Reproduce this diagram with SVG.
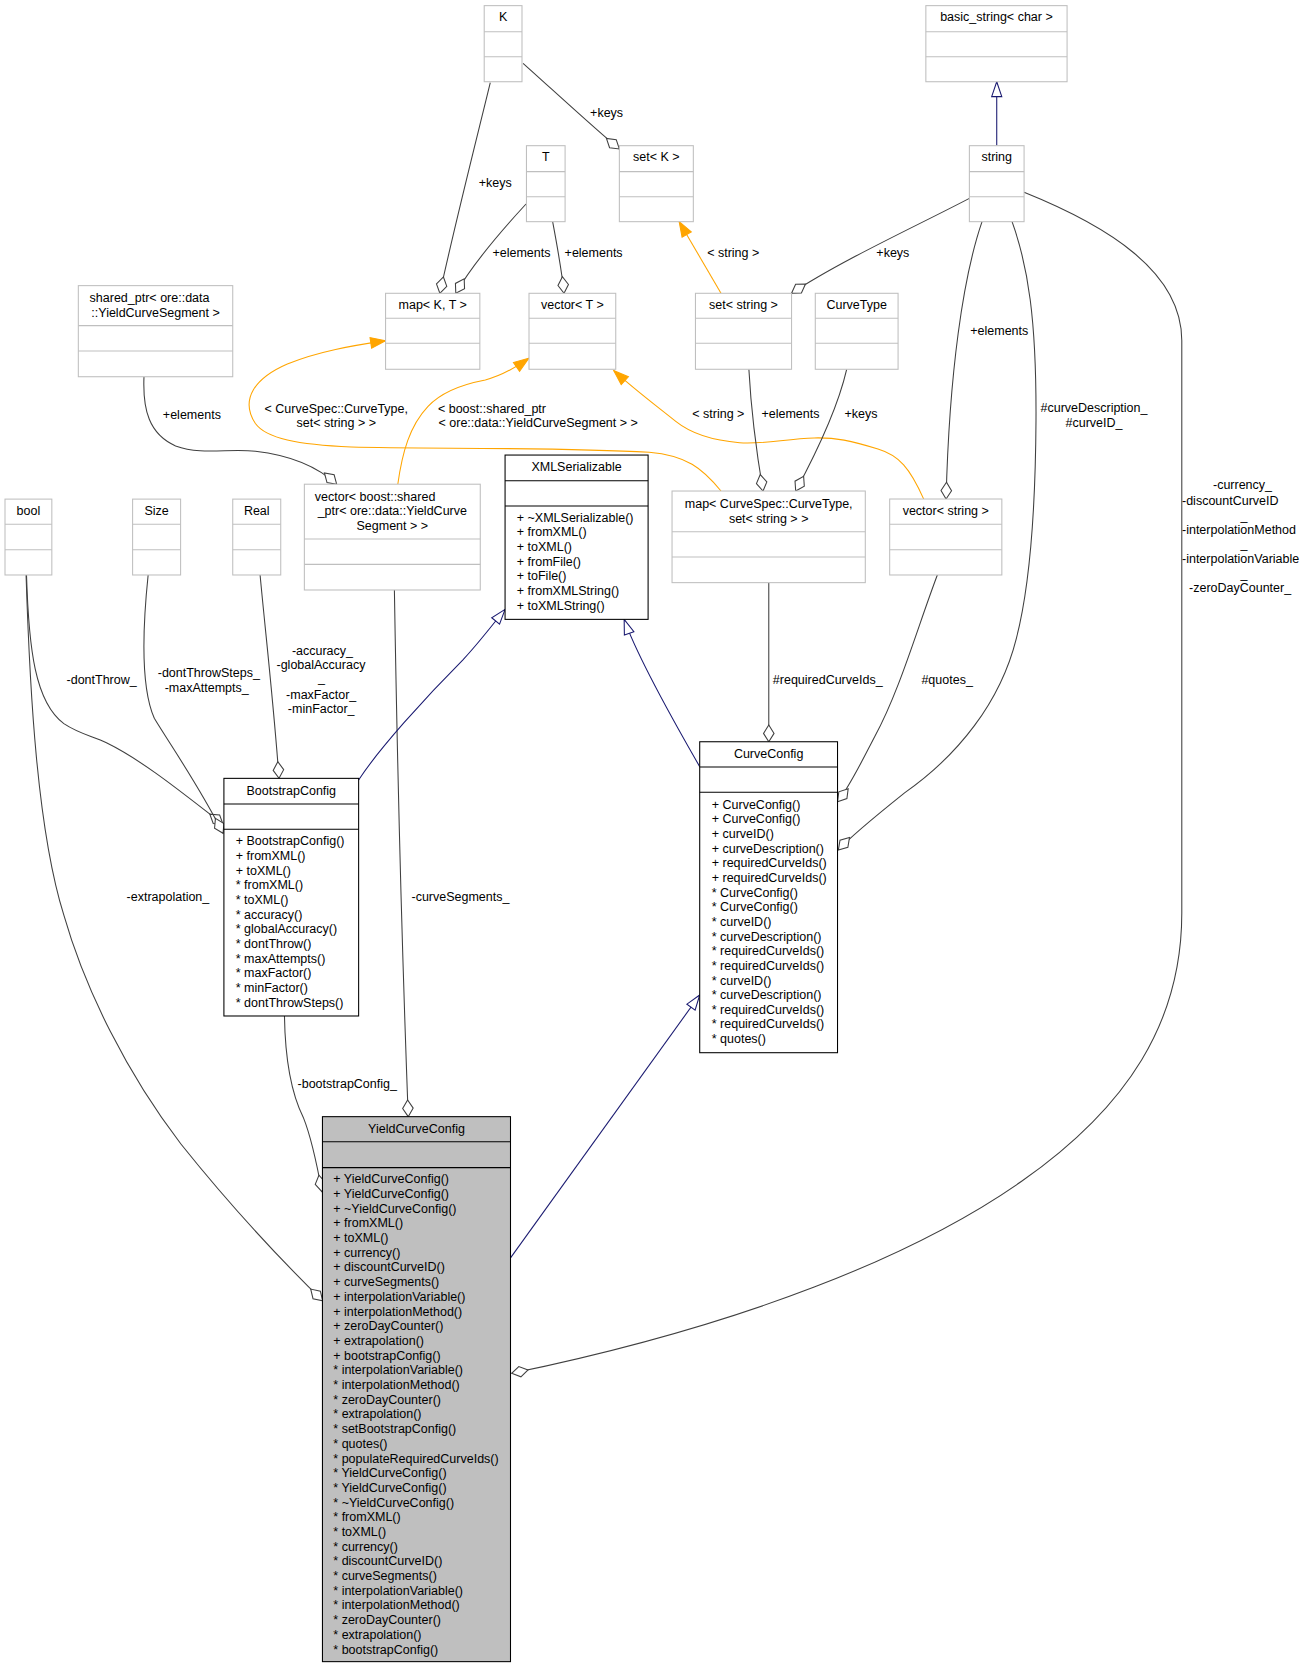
<svg xmlns="http://www.w3.org/2000/svg" width="1309" height="1668" viewBox="0 0 1309 1668">
<style>
text{font-family:"Liberation Sans",Arial,Helvetica,sans-serif;font-size:11.75px;fill:#000}
.c{text-anchor:middle}
.nb{fill:#fff;stroke:#bfbfbf;stroke-width:1}
.ns{stroke:#bfbfbf;stroke-width:1}
.db{fill:#fff;stroke:#000;stroke-width:1}
.gb{fill:#bfbfbf;stroke:#000;stroke-width:1}
.ds{stroke:#000;stroke-width:1}
.e{fill:none;stroke:#404040;stroke-width:1;marker-end:url(#dia)}
.i{fill:none;stroke:#191970;stroke-width:1;marker-end:url(#tri)}
.t{fill:none;stroke:#ffa500;stroke-width:1;marker-end:url(#arr)}
</style>
<defs>
<marker id="dia" viewBox="-17 -6 18 12" markerWidth="18" markerHeight="12" refX="0" refY="0" orient="auto" markerUnits="userSpaceOnUse" overflow="visible"><path d="M0,0 L-7.85,-4.95 L-15.7,0 L-7.85,4.95 Z" fill="#fff" stroke="#404040" stroke-width="1"/></marker>
<marker id="tri" viewBox="-15 -6 16 12" markerWidth="16" markerHeight="12" refX="0" refY="0" orient="auto" markerUnits="userSpaceOnUse" overflow="visible"><path d="M0,0 L-14,-4.75 L-14,4.75 Z" fill="#fff" stroke="#191970" stroke-width="1"/></marker>
<marker id="arr" viewBox="-15 -6 16 12" markerWidth="16" markerHeight="12" refX="0" refY="0" orient="auto" markerUnits="userSpaceOnUse" overflow="visible"><path d="M0,0 L-14,-5 L-14,5 Z" fill="#ffa500" stroke="#ffa500" stroke-width="1"/></marker>
</defs>
<rect x="0" y="0" width="1309" height="1668" fill="#fff"/>
<g transform="scale(1.0642)">
<g id="connectors">
<path class="e" d="M460.7,77.7 C450,122 430,200 413.3,275.6"/>
<text class="c" x="465.3" y="175.9">+keys</text>
<path class="e" d="M491.5,59.5 C520,85 560,122 582,140"/>
<text class="c" x="570" y="110.1">+keys</text>
<path class="e" d="M494.3,191.7 C470,218 442,252 428.3,275.6"/>
<text class="c" x="490" y="241.6">+elements</text>
<path class="e" d="M519.3,208.3 C523,228 528,255 530,275.6"/>
<text class="c" x="557.8" y="241.6">+elements</text>
<path class="t" d="M677.5,275.6 L638.2,208.3"/>
<text class="c" x="689" y="241.6">&lt; string &gt;</text>
<path class="e" d="M910.9,186.4 C860,213 790,245 743.8,275.6"/>
<text class="c" x="839" y="241.6">+keys</text>
<path class="e" d="M922.8,208.3 C905,260 892,350 889,468.9"/>
<text class="c" x="939" y="314.9">+elements</text>
<path class="e" d="M951,208.3 C966,250 974,300 973.5,395 C973,480 968,550 955,600 C940,660 900,710 850,745 C825,765 800,785 787.8,798.7"/>
<text class="c" x="1028" y="387.2">#curveDescription_</text>
<text class="c" x="1028" y="401.4">#curveID_</text>
<path class="e" d="M962.3,180.7 C1040,212 1110.5,255 1110.5,320 L1110.5,858 C1110.5,960 1060,1040 960,1110 C860,1180 700,1245 480.8,1290.5"/>
<text x="1139.8" y="459.3">-currency_</text>
<text x="1110.7" y="474.7">-discountCurveID</text>
<text class="c" x="1169" y="488.2">_</text>
<text x="1110.7" y="501.6">-interpolationMethod</text>
<text class="c" x="1169" y="515.4">_</text>
<text x="1110.7" y="529.2">-interpolationVariable</text>
<text class="c" x="1169" y="543">_</text>
<text x="1117.3" y="556.4">-zeroDayCounter_</text>
<path class="e" d="M135.3,354 C134,385 140,408 165,419 C190,428 215,421 240,424 C275,428 300,440 316.4,455.1"/>
<text class="c" x="180.3" y="393.5">+elements</text>
<path class="t" d="M677.5,461.4 C660,440 645,428 610,425 C520,420 400,422 330,420 C280,418 250,412 240,398 C225,375 240,355 270,342 C300,330 330,325 362.3,320.1"/>
<text class="c" x="316" y="387.9">&lt; CurveSpec::CurveType,</text>
<text class="c" x="316" y="401.4">set&lt; string &gt; &gt;</text>
<path class="t" d="M373.8,455 C378,425 385,400 402,382 C415,368 435,361 456,357 C472,353 485,345 496.8,336.7"/>
<text x="411.5" y="387.9">&lt; boost::shared_ptr</text>
<text class="c" x="505.7" y="401.4">&lt; ore::data::YieldCurveSegment &gt; &gt;</text>
<path class="t" d="M868,469 C855,440 845,428 825,422 C800,414 785,411 765,411.5 C740,412 715,418 695,416 C670,414 650,408 635,396 C615,380 595,365 576.8,348.3"/>
<text class="c" x="675" y="393.2">&lt; string &gt;</text>
<path class="e" d="M703.7,347 C706,390 710,420 717,461.4"/>
<text class="c" x="742.8" y="393.2">+elements</text>
<path class="e" d="M795.6,347 C788,380 770,420 747.7,461.4"/>
<text class="c" x="809" y="393.2">+keys</text>
<path class="e" d="M722.4,547.5 L722.4,697"/>
<text class="c" x="777.8" y="642.5">#requiredCurveIds_</text>
<path class="e" d="M880.8,540.3 C862,590 845,650 822,692 C810,715 798,740 787,753.3"/>
<text class="c" x="890" y="642.5">#quotes_</text>
<path class="e" d="M24.9,540.3 C27,610 33,660 60,680 C75,690 88,692 100,698 C135,715 175,748 209.6,774.6"/>
<text class="c" x="95.5" y="642.5">-dontThrow_</text>
<path class="e" d="M139.2,540.3 C133,600 134,650 145,675 C160,700 185,735 209.6,783"/>
<text class="c" x="196.2" y="636">-dontThrowSteps_</text>
<text class="c" x="194.2" y="650">-maxAttempts_</text>
<path class="e" d="M244.4,540.3 C250,600 257,660 262.2,731.4"/>
<text class="c" x="303" y="615.6">-accuracy_</text>
<text class="c" x="301.6" y="629.1">-globalAccuracy</text>
<text class="c" x="302" y="641">_</text>
<text class="c" x="301.8" y="657">-maxFactor_</text>
<text class="c" x="301.8" y="670.2">-minFactor_</text>
<path class="e" d="M24.5,540.3 C28,650 35,780 60,860 C80,930 120,1010 170,1075 C210,1125 260,1180 303.2,1222.3"/>
<text class="c" x="157.8" y="846.8">-extrapolation_</text>
<path class="e" d="M370.6,554.4 C373,700 378,900 383.6,1049.3"/>
<text class="c" x="432.7" y="846.8">-curveSegments_</text>
<path class="e" d="M267.3,954.7 C268,1000 275,1030 285,1050 C293,1070 298,1095 302.5,1119.8"/>
<text class="c" x="326.3" y="1022.2">-bootstrapConfig_</text>
<path class="i" d="M936.6,136.9 L936.6,76.8"/>
<path class="i" d="M337,733 C355,705 400,655 435,620 C450,604 462,588 474.6,572.6"/>
<path class="i" d="M657.5,720.4 C640,690 600,620 586.5,582"/>
<path class="i" d="M479.9,1181.8 L657.5,935"/>
</g>
<g id="node-K">
<rect class="nb" x="455" y="5.3" width="35.5" height="71.5"/>
<line class="ns" x1="455" y1="29.8" x2="490.5" y2="29.8"/><line class="ns" x1="455" y1="53.3" x2="490.5" y2="53.3"/>
<text class="c" x="472.75" y="20.1">K</text>
</g>
<g id="node-basic_string">
<rect class="nb" x="870" y="5.3" width="132.7" height="71.5"/>
<line class="ns" x1="870" y1="29.8" x2="1002.7" y2="29.8"/><line class="ns" x1="870" y1="53.3" x2="1002.7" y2="53.3"/>
<text class="c" x="936.35" y="20.1">basic_string&lt; char &gt;</text>
</g>
<g id="node-T">
<rect class="nb" x="494.7" y="136.9" width="36.3" height="71.4"/>
<line class="ns" x1="494.7" y1="161.3" x2="531" y2="161.3"/><line class="ns" x1="494.7" y1="184.8" x2="531" y2="184.8"/>
<text class="c" x="512.85" y="151.7">T</text>
</g>
<g id="node-setK">
<rect class="nb" x="582" y="136.9" width="69.5" height="71.4"/>
<line class="ns" x1="582" y1="161.3" x2="651.5" y2="161.3"/><line class="ns" x1="582" y1="184.8" x2="651.5" y2="184.8"/>
<text class="c" x="616.75" y="151.7">set&lt; K &gt;</text>
</g>
<g id="node-string">
<rect class="nb" x="910.9" y="136.9" width="51.4" height="71.4"/>
<line class="ns" x1="910.9" y1="161.3" x2="962.3" y2="161.3"/><line class="ns" x1="910.9" y1="184.8" x2="962.3" y2="184.8"/>
<text class="c" x="936.6" y="151.7">string</text>
</g>
<g id="node-shared_ptr">
<rect class="nb" x="73.6" y="268.4" width="145.1" height="85.6"/>
<line class="ns" x1="73.6" y1="306" x2="218.7" y2="306"/><line class="ns" x1="73.6" y1="329.8" x2="218.7" y2="329.8"/>
<text x="84.2" y="283.9">shared_ptr&lt; ore::data</text>
<text class="c" x="146.15" y="298">::YieldCurveSegment &gt;</text>
</g>
<g id="node-mapKT">
<rect class="nb" x="362.3" y="275.6" width="88.6" height="71.4"/>
<line class="ns" x1="362.3" y1="299.1" x2="450.9" y2="299.1"/><line class="ns" x1="362.3" y1="322.6" x2="450.9" y2="322.6"/>
<text class="c" x="406.6" y="290.4">map&lt; K, T &gt;</text>
</g>
<g id="node-vectorT">
<rect class="nb" x="497.1" y="275.6" width="81.5" height="71.4"/>
<line class="ns" x1="497.1" y1="299.1" x2="578.6" y2="299.1"/><line class="ns" x1="497.1" y1="322.6" x2="578.6" y2="322.6"/>
<text class="c" x="537.85" y="290.4">vector&lt; T &gt;</text>
</g>
<g id="node-setstring">
<rect class="nb" x="653.5" y="275.6" width="90.3" height="71.4"/>
<line class="ns" x1="653.5" y1="299.1" x2="743.8" y2="299.1"/><line class="ns" x1="653.5" y1="322.6" x2="743.8" y2="322.6"/>
<text class="c" x="698.65" y="290.4">set&lt; string &gt;</text>
</g>
<g id="node-CurveType">
<rect class="nb" x="766.1" y="275.6" width="77.8" height="71.4"/>
<line class="ns" x1="766.1" y1="299.1" x2="843.9" y2="299.1"/><line class="ns" x1="766.1" y1="322.6" x2="843.9" y2="322.6"/>
<text class="c" x="805" y="290.4">CurveType</text>
</g>
<g id="node-XMLSerializable">
<rect class="db" x="474.6" y="427.6" width="134.4" height="154.4"/>
<line class="ds" x1="474.6" y1="451.7" x2="609" y2="451.7"/><line class="ds" x1="474.6" y1="475.5" x2="609" y2="475.5"/>
<text class="c" x="541.8" y="442.7">XMLSerializable</text>
<text x="485.6" y="490.3">+ ~XMLSerializable()<tspan x="485.6" dy="13.75">+ fromXML()</tspan><tspan x="485.6" dy="13.75">+ toXML()</tspan><tspan x="485.6" dy="13.75">+ fromFile()</tspan><tspan x="485.6" dy="13.75">+ toFile()</tspan><tspan x="485.6" dy="13.75">+ fromXMLString()</tspan><tspan x="485.6" dy="13.75">+ toXMLString()</tspan></text>
</g>
<g id="node-bool">
<rect class="nb" x="4.7" y="469" width="44" height="71.3"/>
<line class="ns" x1="4.7" y1="492.7" x2="48.7" y2="492.7"/><line class="ns" x1="4.7" y1="516.5" x2="48.7" y2="516.5"/>
<text class="c" x="26.7" y="483.8">bool</text>
</g>
<g id="node-Size">
<rect class="nb" x="124.6" y="469" width="45.1" height="71.3"/>
<line class="ns" x1="124.6" y1="492.7" x2="169.7" y2="492.7"/><line class="ns" x1="124.6" y1="516.5" x2="169.7" y2="516.5"/>
<text class="c" x="147.15" y="483.8">Size</text>
</g>
<g id="node-Real">
<rect class="nb" x="218.7" y="469" width="45.1" height="71.3"/>
<line class="ns" x1="218.7" y1="492.7" x2="263.8" y2="492.7"/><line class="ns" x1="218.7" y1="516.5" x2="263.8" y2="516.5"/>
<text class="c" x="241.25" y="483.8">Real</text>
</g>
<g id="node-vector_shared_ptr">
<rect class="nb" x="286" y="455" width="165.3" height="99.4"/>
<line class="ns" x1="286" y1="506.5" x2="451.3" y2="506.5"/><line class="ns" x1="286" y1="530.3" x2="451.3" y2="530.3"/>
<text x="295.8" y="470.8">vector&lt; boost::shared</text>
<text class="c" x="368.65" y="484.4">_ptr&lt; ore::data::YieldCurve</text>
<text class="c" x="368.65" y="498">Segment &gt; &gt;</text>
</g>
<g id="node-map_CurveSpec">
<rect class="nb" x="631.5" y="461.4" width="181.6" height="86.1"/>
<line class="ns" x1="631.5" y1="499.6" x2="813.1" y2="499.6"/><line class="ns" x1="631.5" y1="523.4" x2="813.1" y2="523.4"/>
<text class="c" x="722.3" y="477.6">map&lt; CurveSpec::CurveType,</text>
<text class="c" x="722.3" y="491.7">set&lt; string &gt; &gt;</text>
</g>
<g id="node-vectorstring">
<rect class="nb" x="836" y="468.9" width="105.4" height="71.4"/>
<line class="ns" x1="836" y1="492.7" x2="941.4" y2="492.7"/><line class="ns" x1="836" y1="516.5" x2="941.4" y2="516.5"/>
<text class="c" x="888.7" y="483.7">vector&lt; string &gt;</text>
</g>
<g id="node-BootstrapConfig">
<rect class="db" x="210.4" y="731.4" width="126.6" height="223.3"/>
<line class="ds" x1="210.4" y1="755.5" x2="337" y2="755.5"/><line class="ds" x1="210.4" y1="779.3" x2="337" y2="779.3"/>
<text class="c" x="273.7" y="747.2">BootstrapConfig</text>
<text x="221.5" y="794.2">+ BootstrapConfig()<tspan x="221.5" dy="13.8">+ fromXML()</tspan><tspan x="221.5" dy="13.8">+ toXML()</tspan><tspan x="221.5" dy="13.8">* fromXML()</tspan><tspan x="221.5" dy="13.8">* toXML()</tspan><tspan x="221.5" dy="13.8">* accuracy()</tspan><tspan x="221.5" dy="13.8">* globalAccuracy()</tspan><tspan x="221.5" dy="13.8">* dontThrow()</tspan><tspan x="221.5" dy="13.8">* maxAttempts()</tspan><tspan x="221.5" dy="13.8">* maxFactor()</tspan><tspan x="221.5" dy="13.8">* minFactor()</tspan><tspan x="221.5" dy="13.8">* dontThrowSteps()</tspan></text>
</g>
<g id="node-CurveConfig">
<rect class="db" x="657.5" y="697" width="129.5" height="292.2"/>
<line class="ds" x1="657.5" y1="720.7" x2="787" y2="720.7"/><line class="ds" x1="657.5" y1="744.5" x2="787" y2="744.5"/>
<text class="c" x="722.25" y="712.1">CurveConfig</text>
<text x="668.8" y="760">+ CurveConfig()<tspan x="668.8" dy="13.76">+ CurveConfig()</tspan><tspan x="668.8" dy="13.76">+ curveID()</tspan><tspan x="668.8" dy="13.76">+ curveDescription()</tspan><tspan x="668.8" dy="13.76">+ requiredCurveIds()</tspan><tspan x="668.8" dy="13.76">+ requiredCurveIds()</tspan><tspan x="668.8" dy="13.76">* CurveConfig()</tspan><tspan x="668.8" dy="13.76">* CurveConfig()</tspan><tspan x="668.8" dy="13.76">* curveID()</tspan><tspan x="668.8" dy="13.76">* curveDescription()</tspan><tspan x="668.8" dy="13.76">* requiredCurveIds()</tspan><tspan x="668.8" dy="13.76">* requiredCurveIds()</tspan><tspan x="668.8" dy="13.76">* curveID()</tspan><tspan x="668.8" dy="13.76">* curveDescription()</tspan><tspan x="668.8" dy="13.76">* requiredCurveIds()</tspan><tspan x="668.8" dy="13.76">* requiredCurveIds()</tspan><tspan x="668.8" dy="13.76">* quotes()</tspan></text>
</g>
<g id="node-YieldCurveConfig">
<rect class="gb" x="303" y="1049.3" width="176.7" height="512.1"/>
<line class="ds" x1="303" y1="1072.8" x2="479.7" y2="1072.8"/><line class="ds" x1="303" y1="1097.2" x2="479.7" y2="1097.2"/>
<text class="c" x="391.35" y="1064.8">YieldCurveConfig</text>
<text x="313.2" y="1111.9">+ YieldCurveConfig()<tspan x="313.2" dy="13.81">+ YieldCurveConfig()</tspan><tspan x="313.2" dy="13.81">+ ~YieldCurveConfig()</tspan><tspan x="313.2" dy="13.81">+ fromXML()</tspan><tspan x="313.2" dy="13.81">+ toXML()</tspan><tspan x="313.2" dy="13.81">+ currency()</tspan><tspan x="313.2" dy="13.81">+ discountCurveID()</tspan><tspan x="313.2" dy="13.81">+ curveSegments()</tspan><tspan x="313.2" dy="13.81">+ interpolationVariable()</tspan><tspan x="313.2" dy="13.81">+ interpolationMethod()</tspan><tspan x="313.2" dy="13.81">+ zeroDayCounter()</tspan><tspan x="313.2" dy="13.81">+ extrapolation()</tspan><tspan x="313.2" dy="13.81">+ bootstrapConfig()</tspan><tspan x="313.2" dy="13.81">* interpolationVariable()</tspan><tspan x="313.2" dy="13.81">* interpolationMethod()</tspan><tspan x="313.2" dy="13.81">* zeroDayCounter()</tspan><tspan x="313.2" dy="13.81">* extrapolation()</tspan><tspan x="313.2" dy="13.81">* setBootstrapConfig()</tspan><tspan x="313.2" dy="13.81">* quotes()</tspan><tspan x="313.2" dy="13.81">* populateRequiredCurveIds()</tspan><tspan x="313.2" dy="13.81">* YieldCurveConfig()</tspan><tspan x="313.2" dy="13.81">* YieldCurveConfig()</tspan><tspan x="313.2" dy="13.81">* ~YieldCurveConfig()</tspan><tspan x="313.2" dy="13.81">* fromXML()</tspan><tspan x="313.2" dy="13.81">* toXML()</tspan><tspan x="313.2" dy="13.81">* currency()</tspan><tspan x="313.2" dy="13.81">* discountCurveID()</tspan><tspan x="313.2" dy="13.81">* curveSegments()</tspan><tspan x="313.2" dy="13.81">* interpolationVariable()</tspan><tspan x="313.2" dy="13.81">* interpolationMethod()</tspan><tspan x="313.2" dy="13.81">* zeroDayCounter()</tspan><tspan x="313.2" dy="13.81">* extrapolation()</tspan><tspan x="313.2" dy="13.81">* bootstrapConfig()</tspan></text>
</g>
</g>
</svg>
